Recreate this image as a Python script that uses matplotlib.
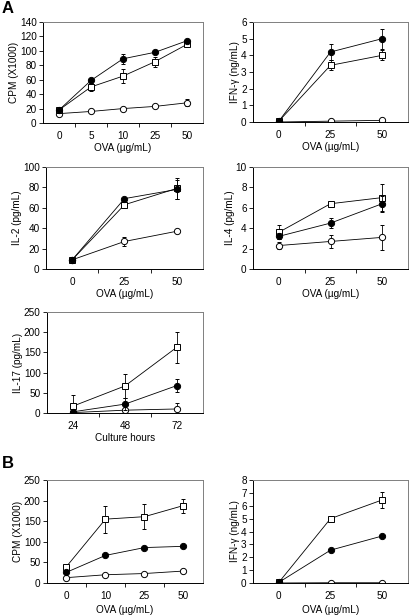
import numpy as np
import matplotlib as mp
mp.use('Agg')
import pylab as plt

mp.rcParams.update({'font.family': ['Liberation Sans', 'DejaVu Sans'], 'font.size': 7.2})

W, H = 414, 615

# ---- data ----
# A: CPM proliferation
cpm_a_x = ['0', '5', '10', '25', '50']
cpm_a_filled = [18, 59, 89, 98, 114]
cpm_a_filled_err = [2, 3, 7, 3, 3]
cpm_a_square = [18, 50, 65, 85, 109]
cpm_a_square_err = [2, 5, 10, 7, 4]
cpm_a_open = [13, 16, 20, 23, 28]
cpm_a_open_err = [1, 1, 1, 1, 5]

# A: IFN-gamma
ifn_a_x = ['0', '25', '50']
ifn_a_filled = [0.05, 4.2, 5.0]
ifn_a_filled_err = [0, 0.5, 0.6]
ifn_a_square = [0.05, 3.4, 4.0]
ifn_a_square_err = [0, 0.3, 0.3]
ifn_a_open = [0.0, 0.05, 0.1]
ifn_a_open_err = [0, 0, 0]

# A: IL-2
il2_x = ['0', '25', '50']
il2_filled = [9, 69, 78]
il2_filled_err = [1, 1, 9]
il2_square = [9, 63, 79]
il2_square_err = [1, 1, 10]
il2_open = [9, 27, 37]
il2_open_err = [1, 4, 1]

# A: IL-4
il4_x = ['0', '25', '50']
il4_filled = [3.2, 4.5, 6.4]
il4_filled_err = [0.3, 0.5, 0.8]
il4_square = [3.6, 6.4, 7.0]
il4_square_err = [0.7, 0.1, 1.3]
il4_open = [2.3, 2.7, 3.1]
il4_open_err = [0.3, 0.6, 1.2]

# A: IL-17 over culture time
il17_x = ['24', '48', '72']
il17_filled = [3, 22, 68]
il17_filled_err = [1, 15, 17]
il17_square = [17, 67, 163]
il17_square_err = [27, 30, 38]
il17_open = [1, 7, 10]
il17_open_err = [1, 2, 15]

# B: CPM
cpm_b_x = ['0', '10', '25', '50']
cpm_b_filled = [26, 67, 86, 89]
cpm_b_filled_err = [2, 3, 4, 4]
cpm_b_square = [40, 155, 161, 188]
cpm_b_square_err = [3, 33, 31, 17]
cpm_b_open = [13, 20, 23, 29]
cpm_b_open_err = [1, 1, 1, 2]

# B: IFN-gamma
ifn_b_x = ['0', '25', '50']
ifn_b_filled = [0.05, 2.55, 3.65]
ifn_b_filled_err = [0, 0.1, 0.1]
ifn_b_square = [0.05, 5.0, 6.45]
ifn_b_square_err = [0, 0.2, 0.6]
ifn_b_open = [0.0, 0.02, 0.02]
ifn_b_open_err = [0, 0, 0]


def axes_px(fig, l, t, r, b):
    return fig.add_axes([l/W, 1-b/H, (r-l)/W, (b-t)/H])


def panel(ax, xlabels, filled, ferr, square, serr, opn, oerr,
          ymax, ystep, ylabel, xlabel, xpad=1):
    x = np.arange(len(xlabels))
    kw = dict(color='black', lw=0.6, elinewidth=0.6, capsize=1.5, capthick=0.6,
              markeredgecolor='black', markeredgewidth=0.7)
    ax.errorbar(x, opn, yerr=oerr, marker='o', ms=4.5, markerfacecolor='white', zorder=2, **kw)
    ax.errorbar(x, square, yerr=serr, marker='s', ms=4.5, markerfacecolor='white', zorder=3, **kw)
    ax.errorbar(x, filled, yerr=ferr, marker='o', ms=4.5, markerfacecolor='black', zorder=4, **kw)

    ax.set_xlim(-0.5, len(xlabels)-0.5)
    ax.set_ylim(0, ymax)
    ax.set_yticks(np.arange(0, ymax+ystep/2, ystep))
    ax.set_xticks(x)
    ax.set_xticklabels(xlabels)
    ax.set_xticks(np.arange(0.5, len(xlabels)-1, 1), minor=True)
    ax.tick_params(axis='x', which='major', length=0, pad=6)
    ax.tick_params(axis='x', which='minor', length=3, width=0.6, direction='out')
    ax.tick_params(axis='y', length=3, width=0.6, direction='out', pad=1.5)
    for s in ['left', 'bottom']:
        ax.spines[s].set_linewidth(0.7)
        ax.spines[s].set_color('black')
    for s in ['top', 'right']:
        ax.spines[s].set_linewidth(0.7)
        ax.spines[s].set_color('#7f7f7f')
    ax.set_ylabel(ylabel, labelpad=0.5)
    ax.set_xlabel(xlabel, labelpad=xpad)


fig = plt.figure(figsize=(W/100, H/100), dpi=100)

ax1 = axes_px(fig, 43, 22, 203, 123)
panel(ax1, cpm_a_x, cpm_a_filled, cpm_a_filled_err, cpm_a_square, cpm_a_square_err,
      cpm_a_open, cpm_a_open_err, 140, 20, 'CPM (X1000)', 'OVA (µg/mL)')

ax2 = axes_px(fig, 253, 22, 408, 122)
panel(ax2, ifn_a_x, ifn_a_filled, ifn_a_filled_err, ifn_a_square, ifn_a_square_err,
      ifn_a_open, ifn_a_open_err, 6, 1, 'IFN-γ (ng/mL)', 'OVA (µg/mL)')

ax3 = axes_px(fig, 46, 167, 203, 269)
panel(ax3, il2_x, il2_filled, il2_filled_err, il2_square, il2_square_err,
      il2_open, il2_open_err, 100, 20, 'IL-2 (pg/mL)', 'OVA (µg/mL)')

ax4 = axes_px(fig, 253, 167, 408, 269)
panel(ax4, il4_x, il4_filled, il4_filled_err, il4_square, il4_square_err,
      il4_open, il4_open_err, 10, 2, 'IL-4 (pg/mL)', 'OVA (µg/mL)')

ax5 = axes_px(fig, 47, 312, 203, 413)
panel(ax5, il17_x, il17_filled, il17_filled_err, il17_square, il17_square_err,
      il17_open, il17_open_err, 250, 50, 'IL-17 (pg/mL)', 'Culture hours')

ax6 = axes_px(fig, 47, 480, 203, 583)
panel(ax6, cpm_b_x, cpm_b_filled, cpm_b_filled_err, cpm_b_square, cpm_b_square_err,
      cpm_b_open, cpm_b_open_err, 250, 50, 'CPM (X1000)', 'OVA (µg/mL)', xpad=2.5)

ax7 = axes_px(fig, 253, 480, 408, 583)
panel(ax7, ifn_b_x, ifn_b_filled, ifn_b_filled_err, ifn_b_square, ifn_b_square_err,
      ifn_b_open, ifn_b_open_err, 8, 1, 'IFN-γ (ng/mL)', 'OVA (µg/mL)', xpad=2.5)

fig.text(2/W, 1-1/H, 'A', fontsize=12, fontweight='bold', va='top', ha='left')
fig.text(2/W, 1-456/H, 'B', fontsize=12, fontweight='bold', va='top', ha='left')

plt.savefig('out.png', dpi=100)
